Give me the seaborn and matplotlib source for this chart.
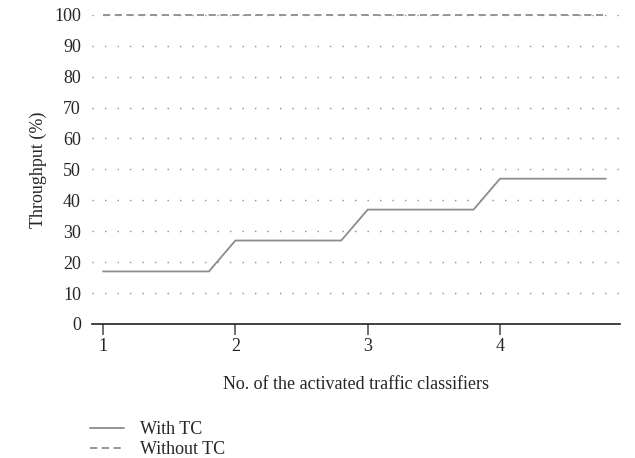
import matplotlib.pyplot as plt
import numpy as np
import pandas as pd
import seaborn as sns

# Data
with_x = [1, 1.8, 2, 2.8, 3, 3.8, 4, 4.8]
with_y = [17, 17, 27, 27, 37, 37, 47, 47]
without_x = [1, 4.8]
without_y = [100, 100]
yticks = list(range(0, 101, 10))
xticks = [1, 2, 3, 4]

sns.set_style("white")
plt.rcParams['font.family'] = ['Liberation Serif', 'DejaVu Serif']

fig = plt.figure(figsize=(6.35, 4.58), dpi=100)
ax = fig.add_axes([0.145, 0.2926, 0.831, 0.675])

df_with = pd.DataFrame({'x': with_x, 'y': with_y})
df_without = pd.DataFrame({'x': without_x, 'y': without_y})
sns.lineplot(data=df_with, x='x', y='y', ax=ax, color='#8c8c8c', lw=1.3,
             label='With TC', sort=False)
sns.lineplot(data=df_without, x='x', y='y', ax=ax, color='#8c8c8c', lw=1.3,
             linestyle=(0, (4, 2.5)), label='Without TC', clip_on=False)

ax.set_xlim(0.917, 4.905)
ax.set_ylim(0, 100)
ax.set_xticks(xticks)
ax.set_yticks(yticks)
for y in yticks[1:]:
    ax.axhline(y, color='#8c8c8c', lw=1.0, linestyle=(0, (1, 8)), zorder=0)

for s in ['top', 'right', 'left']:
    ax.spines[s].set_visible(False)
ax.spines['bottom'].set_color('#222222')
ax.spines['bottom'].set_linewidth(1.2)
ax.tick_params(axis='x', bottom=True, direction='out', length=8, width=1.2,
               color='#555555', labelsize=13, pad=2)
ax.tick_params(axis='y', left=False, length=0, labelsize=13, pad=8)

ax.set_xlabel('No. of the activated traffic classifiers', fontsize=13, labelpad=15)
ax.set_ylabel('Throughput (%)', fontsize=13, labelpad=5)

ax.legend(loc='upper left', bbox_to_anchor=(-0.018, -0.292), frameon=False,
          fontsize=13, handlelength=1.9, handletextpad=0.9, labelspacing=0.15,
          borderaxespad=0)

fig.savefig('out.png', dpi=100)
